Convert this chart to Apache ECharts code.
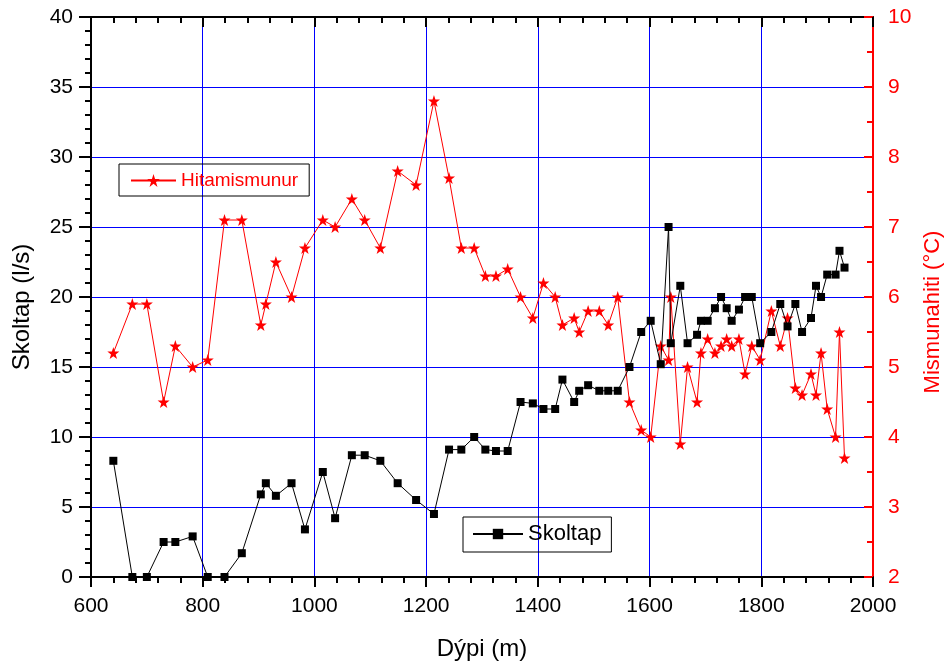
<!DOCTYPE html>
<html>
<head>
<meta charset="utf-8">
<script src="https://cdn.jsdelivr.net/npm/echarts@6/dist/echarts.min.js"></script>
<style>html,body{margin:0;padding:0;background:#fff}#c{width:946px;height:666px}</style>
</head>
<body>
<div id="c"></div>
<script>
const depth = [640, 674, 700, 730, 751, 782, 809, 839, 870, 904, 913, 931, 959, 983, 1015, 1037, 1067, 1090, 1118, 1149, 1182, 1214, 1241, 1263, 1286, 1306, 1325, 1346, 1369, 1391, 1410, 1431, 1444, 1465, 1474, 1490, 1510, 1526, 1543, 1564, 1585, 1602, 1620, 1634, 1638, 1655, 1668, 1685, 1692, 1704, 1717, 1728, 1738, 1747, 1760, 1771, 1783, 1798, 1818, 1834, 1847, 1861, 1873, 1889, 1898, 1907, 1918, 1933, 1940, 1949];
const skoltap = [8.3, 0, 0, 2.5, 2.5, 2.9, 0, 0, 1.7, 5.9, 6.7, 5.8, 6.7, 3.4, 7.5, 4.2, 8.7, 8.7, 8.3, 6.7, 5.5, 4.5, 9.1, 9.1, 10.0, 9.1, 9.0, 9.0, 12.5, 12.4, 12.0, 12.0, 14.1, 12.5, 13.3, 13.7, 13.3, 13.3, 13.3, 15.0, 17.5, 18.3, 15.2, 25.0, 16.7, 20.8, 16.7, 17.3, 18.3, 18.3, 19.2, 20.0, 19.2, 18.3, 19.1, 20.0, 20.0, 16.7, 17.5, 19.5, 17.9, 19.5, 17.5, 18.5, 20.8, 20.0, 21.6, 21.6, 23.3, 22.1];
const hitamismunur = [5.2, 5.9, 5.9, 4.5, 5.3, 5.0, 5.1, 7.1, 7.1, 5.6, 5.9, 6.5, 6.0, 6.7, 7.1, 7.0, 7.4, 7.1, 6.7, 7.8, 7.6, 8.8, 7.7, 6.7, 6.7, 6.3, 6.3, 6.4, 6.0, 5.7, 6.2, 6.0, 5.6, 5.7, 5.5, 5.8, 5.8, 5.6, 6.0, 4.5, 4.1, 4.0, 5.3, 5.1, 6.0, 3.9, 5.0, 4.5, 5.2, 5.4, 5.2, 5.3, 5.4, 5.3, 5.4, 4.9, 5.3, 5.1, 5.8, 5.3, 5.7, 4.7, 4.6, 4.9, 4.6, 5.2, 4.4, 4.0, 5.5, 3.7];
const xTicks = {min: 600, max: 2000, interval: 200};
const yLeftTicks = {min: 0, max: 40, interval: 5};
const yRightTicks = {min: 2, max: 10, interval: 1};

const FONT = '"Liberation Sans", Arial, sans-serif';
const star = 'path://M50,0 L61.8,35.1 L98.9,35.1 L68.9,56.9 L80.2,91.9 L50,70.1 L19.8,91.9 L31.1,56.9 L1.1,35.1 L38.2,35.1 Z';
const plain = v => String(v);
const chart = echarts.init(document.getElementById('c'), null, {renderer: 'canvas'});
chart.setOption({
  animation: false,
  backgroundColor: '#fff',
  textStyle: {fontFamily: FONT},
  grid: {left: 91, right: 73, top: 17, bottom: 89, containLabel: false, outerBoundsMode: 'none'},
  legend: [
    {data: ['Hitamismunur'], left: 119, top: 164, orient: 'horizontal',
     borderColor: '#000', borderWidth: 1, padding: [7, 11, 6, 11],
     itemWidth: 45, itemHeight: 16, itemGap: 5,
     textStyle: {color: '#ff0000', fontSize: 19, fontFamily: FONT}},
    {data: ['Skoltap'], left: 463, top: 517, orient: 'horizontal',
     borderColor: '#000', borderWidth: 1, padding: [6, 10, 7, 9],
     itemWidth: 50, itemHeight: 13, itemGap: 7,
     textStyle: {color: '#000', fontSize: 22, fontFamily: FONT}}
  ],
  xAxis: [
    {type: 'value', position: 'bottom', min: xTicks.min, max: xTicks.max, interval: xTicks.interval,
     name: 'Dýpi (m)', nameLocation: 'middle', nameGap: 60,
     nameTextStyle: {fontSize: 24, color: '#000', fontFamily: FONT},
     axisLine: {show: true, onZero: false, lineStyle: {color: '#000', width: 2}},
     axisTick: {show: true, inside: false, length: 10, lineStyle: {color: '#000', width: 2}},
     minorTick: {show: true, splitNumber: 5, length: 6, lineStyle: {color: '#000', width: 2}},
     axisLabel: {fontSize: 21, color: '#000', margin: 19, fontFamily: FONT, formatter: plain},
     splitLine: {show: true, lineStyle: {color: '#0000ff', width: 1}}},
    {type: 'value', position: 'top', min: xTicks.min, max: xTicks.max, interval: xTicks.interval,
     axisLine: {show: true, onZero: false, lineStyle: {color: '#000', width: 2}},
     axisTick: {show: true, inside: true, length: 10, lineStyle: {color: '#000', width: 2}},
     minorTick: {show: true, splitNumber: 5, length: 6, lineStyle: {color: '#000', width: 2}},
     axisLabel: {show: false}, splitLine: {show: false}}
  ],
  yAxis: [
    {type: 'value', position: 'left', min: yLeftTicks.min, max: yLeftTicks.max, interval: yLeftTicks.interval,
     name: 'Skoltap (l/s)', nameLocation: 'middle', nameGap: 57, nameRotate: 90,
     nameTextStyle: {fontSize: 24, color: '#000', fontFamily: FONT, padding: [0, 20, 0, 0]},
     axisLine: {show: true, onZero: false, lineStyle: {color: '#000', width: 2}},
     axisTick: {show: true, inside: false, length: 12, lineStyle: {color: '#000', width: 2}},
     minorTick: {show: true, splitNumber: 5, length: 6, lineStyle: {color: '#000', width: 2}},
     axisLabel: {fontSize: 21, color: '#000', margin: 18, fontFamily: FONT, formatter: plain},
     splitLine: {show: true, lineStyle: {color: '#0000ff', width: 1}}},
    {type: 'value', position: 'right', min: yRightTicks.min, max: yRightTicks.max, interval: yRightTicks.interval,
     name: 'Mismunahiti (°C)', nameLocation: 'middle', nameGap: 48, nameRotate: 90,
     nameTextStyle: {fontSize: 22, color: '#ff0000', fontFamily: FONT, padding: [0, 30, 0, 0]},
     axisLine: {show: true, onZero: false, lineStyle: {color: '#ff0000', width: 2}},
     axisTick: {show: true, inside: true, length: 9, lineStyle: {color: '#ff0000', width: 2}},
     minorTick: {show: true, splitNumber: 2, length: 6, lineStyle: {color: '#ff0000', width: 2}},
     axisLabel: {fontSize: 21, color: '#ff0000', margin: 15, fontFamily: FONT, formatter: plain},
     splitLine: {show: false}}
  ],
  series: [
    {name: 'Hitamismunur', type: 'line', xAxisIndex: 0, yAxisIndex: 1,
     data: depth.map((d, i) => [d, hitamismunur[i]]),
     symbol: star, symbolSize: 12, z: 3,
     lineStyle: {color: '#ff0000', width: 1},
     itemStyle: {color: '#ff0000'}},
    {name: 'Skoltap', type: 'line', xAxisIndex: 0, yAxisIndex: 0,
     data: depth.map((d, i) => [d, skoltap[i]]),
     symbol: 'rect', symbolSize: 8, z: 4,
     lineStyle: {color: '#000', width: 1},
     itemStyle: {color: '#000'}}
  ]
});
</script>
</body>
</html>
